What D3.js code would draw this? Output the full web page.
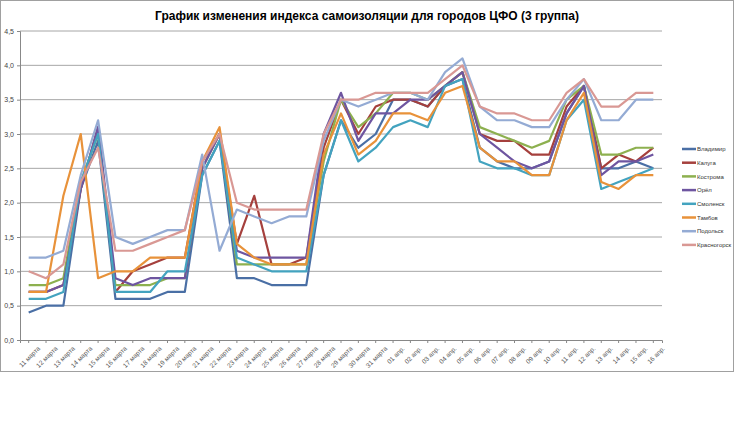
<!DOCTYPE html>
<html><head><meta charset="utf-8">
<script src="https://cdn.jsdelivr.net/npm/d3@7"></script>
<style>body{margin:0;background:#fff}</style>
</head><body><svg id="c" width="735" height="441"></svg>
<script>
const categories=["11 марта","12 марта","13 марта","14 марта","15 марта","16 марта","17 марта","18 марта","19 марта","20 марта","21 марта","22 марта","23 марта","24 марта","25 марта","26 марта","27 марта","28 марта","29 марта","30 марта","31 марта","01 апр.","02 апр.","03 апр.","04 апр.","05 апр.","06 апр.","07 апр.","08 апр.","09 апр.","10 апр.","11 апр.","12 апр.","13 апр.","14 апр.","15 апр.","16 апр."];
const seriesNames=["Владимир","Калуга","Кострома","Орёл","Смоленск","Тамбов","Подольск","Красногорск"];
const colors=["#4a6fa5","#a5403d","#8db04f","#6e55a0","#43a3bf","#e8923a","#94abd4","#d99894"];
const vladimir=[0.4,0.5,0.5,2.2,2.9,0.6,0.6,0.6,0.7,0.7,2.4,2.9,0.9,0.9,0.8,0.8,0.8,2.4,3.2,2.8,3.0,3.5,3.5,3.4,3.7,3.8,2.8,2.6,2.5,2.5,2.6,3.3,3.7,2.5,2.5,2.6,2.5];
const kaluga=[0.7,0.7,0.8,2.2,3.1,0.7,1.0,1.1,1.2,1.2,2.6,3.0,1.4,2.1,1.1,1.1,1.2,2.8,3.5,3.0,3.4,3.5,3.5,3.4,3.7,3.9,3.0,2.9,2.9,2.7,2.7,3.4,3.7,2.5,2.7,2.6,2.8];
const kostroma=[0.8,0.8,0.9,2.3,3.0,0.8,0.8,0.8,0.9,0.9,2.5,3.0,1.1,1.1,1.1,1.1,1.1,2.6,3.5,3.1,3.3,3.6,3.6,3.5,3.7,3.9,3.1,3.0,2.9,2.8,2.9,3.5,3.7,2.7,2.7,2.8,2.8];
const orel=[0.7,0.7,0.8,2.2,3.1,0.9,0.8,0.9,0.9,0.9,2.5,3.0,1.3,1.2,1.2,1.2,1.2,3.0,3.6,2.9,3.3,3.3,3.5,3.5,3.7,3.9,3.0,2.8,2.6,2.5,2.6,3.3,3.7,2.4,2.6,2.6,2.7];
const smolensk=[0.6,0.6,0.7,2.3,3.0,0.7,0.7,0.7,1.0,1.0,2.4,2.9,1.2,1.1,1.0,1.0,1.0,2.4,3.2,2.6,2.8,3.1,3.2,3.1,3.7,3.8,2.6,2.5,2.5,2.4,2.4,3.2,3.5,2.2,2.3,2.4,2.5];
const tambov=[0.7,0.7,2.1,3.0,0.9,1.0,1.0,1.2,1.2,1.2,2.6,3.1,1.4,1.2,1.1,1.1,1.1,2.7,3.3,2.7,2.9,3.3,3.3,3.2,3.6,3.7,2.8,2.6,2.6,2.4,2.4,3.2,3.6,2.3,2.2,2.4,2.4];
const podolsk=[1.2,1.2,1.3,2.4,3.2,1.5,1.4,1.5,1.6,1.6,2.7,1.3,1.9,1.8,1.7,1.8,1.8,2.9,3.5,3.4,3.5,3.6,3.6,3.5,3.9,4.1,3.4,3.2,3.2,3.1,3.1,3.5,3.8,3.2,3.2,3.5,3.5];
const krasnogorsk=[1.0,0.9,1.1,2.3,2.8,1.3,1.3,1.4,1.5,1.6,2.6,3.0,2.0,1.9,1.9,1.9,1.9,3.0,3.5,3.5,3.6,3.6,3.6,3.6,3.8,4.0,3.4,3.3,3.3,3.2,3.2,3.6,3.8,3.4,3.4,3.6,3.6];
const seriesValues=[vladimir,kaluga,kostroma,orel,smolensk,tambov,podolsk,krasnogorsk];
const yTicks=[0,0.5,1,1.5,2,2.5,3,3.5,4,4.5];

const svg=d3.select("#c");
const font="Liberation Sans, Arial, sans-serif";
svg.append("rect").attr("x",0.5).attr("y",0.5).attr("width",733).attr("height",371).attr("fill","#fff").attr("stroke","#a0a0a0");
svg.append("text").attr("x",367).attr("y",20).attr("text-anchor","middle").attr("font-family",font).attr("font-weight","bold").attr("font-size",12).text("График изменения индекса самоизоляции для городов ЦФО (3 группа)");

const x=d3.scaleBand().domain(categories).range([20,662]);
const y=d3.scaleLinear().domain([0,4.5]).range([340,31]);
const g=svg.append("g");
g.selectAll("line.grid").data(yTicks.slice(1)).join("line").attr("x1",20).attr("x2",662).attr("y1",d=>y(d)).attr("y2",d=>y(d)).attr("stroke","#a6a6a6").attr("stroke-width",1);
const ya=svg.append("g").attr("transform","translate(20,0)").call(d3.axisLeft(y).tickValues(yTicks).tickSize(3).tickFormat(d=>d3.format(".1f")(d).replace(".",",")));
ya.selectAll("text").attr("font-family",font).attr("font-size",7).attr("fill","#444");
ya.selectAll("line,path").attr("stroke","#888");
const xa=svg.append("g").attr("transform","translate(0,340)").call(d3.axisBottom(x).tickSize(3).tickFormat(d=>d));
xa.selectAll("line,path").attr("stroke","#888");
xa.selectAll("text").attr("font-family",font).attr("font-size",6.5).attr("fill","#555").attr("text-anchor","end").attr("transform","translate(5,2) rotate(-45)").attr("dx","0").attr("dy","0.6em");

const line=d3.line().x((d,i)=>x(categories[i])+x.bandwidth()/2).y(d=>y(d));
seriesValues.forEach((s,k)=>{
  svg.append("path").attr("d",line(s)).attr("fill","none").attr("stroke",colors[k]).attr("stroke-width",2.2).attr("stroke-linejoin","round");
});
const lg=svg.append("g");
seriesNames.forEach((n,k)=>{
  const yy=149+k*13.7;
  lg.append("line").attr("x1",682).attr("x2",696).attr("y1",yy).attr("y2",yy).attr("stroke",colors[k]).attr("stroke-width",2.5);
  lg.append("text").attr("x",697).attr("y",yy+2.2).attr("font-family",font).attr("font-size",6).attr("fill","#333").text(n);
});
</script></body></html>
